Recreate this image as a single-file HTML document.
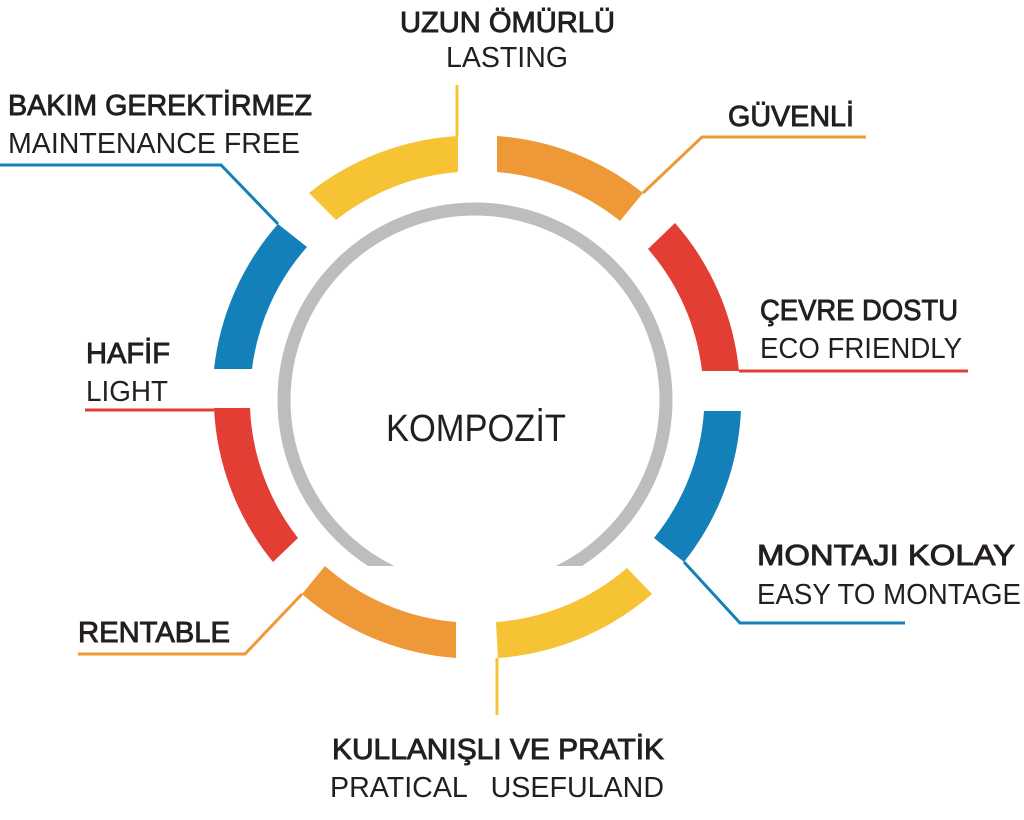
<!DOCTYPE html>
<html><head><meta charset="utf-8"><style>
html,body{margin:0;padding:0;background:#fff;}
svg{display:block}
text{font-family:"Liberation Sans",sans-serif;fill:#231f20;font-size:29px}
.t{stroke:#231f20;stroke-width:0.9}
</style></head><body>
<svg width="1024" height="820" viewBox="0 0 1024 820" xmlns="http://www.w3.org/2000/svg">
<defs><clipPath id="c"><rect x="0" y="0" width="1024" height="566"/></clipPath></defs>
<circle cx="475" cy="400" r="191" fill="none" stroke="#bdbdbd" stroke-width="13" clip-path="url(#c)"/>
<g stroke="none">
<path fill="#f5c333" d="M309,193 A263,263 0 0 1 458,136 L458,172 A226,226 0 0 0 336,220 Z"/>
<path fill="#ef9838" d="M497,136 A263,263 0 0 1 643,193 L620,221 A226,226 0 0 0 497,172 Z"/>
<path fill="#e23e34" d="M675,223 A263,263 0 0 1 739,371 L702,371 A226,226 0 0 0 648,249 Z"/>
<path fill="#1380ba" d="M741,411 A263,263 0 0 1 684,562 L654,538 A226,226 0 0 0 704,411 Z"/>
<path fill="#f5c333" d="M652,594 A263,263 0 0 1 498,658 L496,622 A226,226 0 0 0 627,568 Z"/>
<path fill="#ef9838" d="M456,658 A263,263 0 0 1 302,594 L325,566 A226,226 0 0 0 456,622 Z"/>
<path fill="#e23e34" d="M273,562 A263,263 0 0 1 214,408 L250,408 A226,226 0 0 0 298,538 Z"/>
<path fill="#1380ba" d="M214,369 A263,263 0 0 1 278,224 L307,247 A226,226 0 0 0 252,369 Z"/>
</g>
<g fill="none" stroke-width="3">
<polyline points="457,85 457,137" stroke="#f5c333"/>
<polyline points="643,193 702,137 866,137" stroke="#ef9838"/>
<polyline points="739,371 968,371" stroke="#e23e34"/>
<polyline points="684,562 740,623 905,623" stroke="#1380ba"/>
<polyline points="497,658 497,715" stroke="#f5c333"/>
<polyline points="302,594 245,654 78,654" stroke="#ef9838"/>
<polyline points="214,410 85,410" stroke="#e23e34"/>
<polyline points="278,224 221,165 0,165" stroke="#1380ba"/>
</g>
<text x="386" y="441" textLength="180" lengthAdjust="spacingAndGlyphs" style="font-size:38px">KOMPOZİT</text>
<text class="t" x="400" y="32" textLength="215" lengthAdjust="spacingAndGlyphs">UZUN ÖMÜRLÜ</text>
<text x="446" y="67" textLength="122" lengthAdjust="spacingAndGlyphs">LASTING</text>
<text class="t" x="8" y="115" textLength="304" lengthAdjust="spacingAndGlyphs">BAKIM GEREKTİRMEZ</text>
<text x="8" y="153" textLength="292" lengthAdjust="spacingAndGlyphs">MAINTENANCE FREE</text>
<text class="t" x="728" y="126" textLength="126" lengthAdjust="spacingAndGlyphs">GÜVENLİ</text>
<text class="t" x="760" y="320" textLength="198" lengthAdjust="spacingAndGlyphs">ÇEVRE DOSTU</text>
<text x="760" y="358" textLength="202" lengthAdjust="spacingAndGlyphs">ECO FRIENDLY</text>
<text class="t" x="86" y="363" textLength="84" lengthAdjust="spacingAndGlyphs">HAFİF</text>
<text x="86" y="401" textLength="82" lengthAdjust="spacingAndGlyphs">LIGHT</text>
<text class="t" x="757" y="565" textLength="258" lengthAdjust="spacingAndGlyphs">MONTAJI KOLAY</text>
<text x="757" y="604" textLength="264" lengthAdjust="spacingAndGlyphs">EASY TO MONTAGE</text>
<text class="t" x="78" y="642" textLength="152" lengthAdjust="spacingAndGlyphs">RENTABLE</text>
<text class="t" x="332" y="759" textLength="332" lengthAdjust="spacingAndGlyphs">KULLANIŞLI VE PRATİK</text>
<text x="330" y="797" textLength="334" lengthAdjust="spacingAndGlyphs" xml:space="preserve">PRATICAL   USEFULAND</text>
</svg>
</body></html>
